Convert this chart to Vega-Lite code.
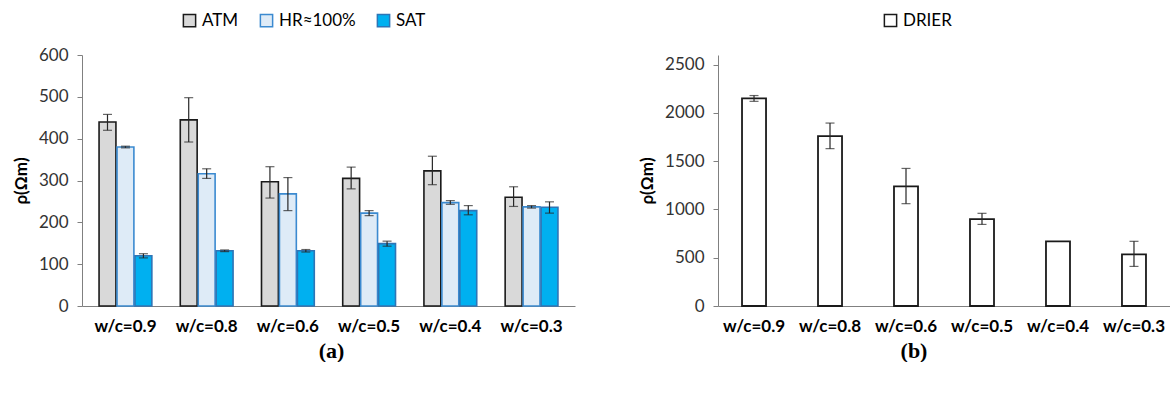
{
  "$schema": "https://vega.github.io/schema/vega-lite/v6.json",
  "padding": {"left": 12, "top": 12, "right": 0, "bottom": 0},
  "background": "white",
  "spacing": 63,
  "datasets": {
    "moist": [
      {"wc": "w/c=0.9", "cond": "ATM", "rho": 440, "lo": 420, "hi": 458},
      {"wc": "w/c=0.9", "cond": "HR≈100%", "rho": 380, "lo": 378, "hi": 382},
      {"wc": "w/c=0.9", "cond": "SAT", "rho": 120, "lo": 115, "hi": 125},
      {"wc": "w/c=0.8", "cond": "ATM", "rho": 445, "lo": 392, "hi": 498},
      {"wc": "w/c=0.8", "cond": "HR≈100%", "rho": 316, "lo": 305, "hi": 328},
      {"wc": "w/c=0.8", "cond": "SAT", "rho": 132, "lo": 130, "hi": 134},
      {"wc": "w/c=0.6", "cond": "ATM", "rho": 297, "lo": 258, "hi": 333},
      {"wc": "w/c=0.6", "cond": "HR≈100%", "rho": 268, "lo": 228, "hi": 307},
      {"wc": "w/c=0.6", "cond": "SAT", "rho": 132, "lo": 129, "hi": 135},
      {"wc": "w/c=0.5", "cond": "ATM", "rho": 305, "lo": 280, "hi": 332},
      {"wc": "w/c=0.5", "cond": "HR≈100%", "rho": 222, "lo": 216, "hi": 228},
      {"wc": "w/c=0.5", "cond": "SAT", "rho": 149, "lo": 143, "hi": 155},
      {"wc": "w/c=0.4", "cond": "ATM", "rho": 323, "lo": 290, "hi": 358},
      {"wc": "w/c=0.4", "cond": "HR≈100%", "rho": 247, "lo": 243, "hi": 252},
      {"wc": "w/c=0.4", "cond": "SAT", "rho": 228, "lo": 218, "hi": 240},
      {"wc": "w/c=0.3", "cond": "ATM", "rho": 260, "lo": 238, "hi": 285},
      {"wc": "w/c=0.3", "cond": "HR≈100%", "rho": 237, "lo": 234, "hi": 240},
      {"wc": "w/c=0.3", "cond": "SAT", "rho": 236, "lo": 222, "hi": 249}
    ],
    "drier": [
      {"wc": "w/c=0.9", "cond": "DRIER", "rho": 2150, "lo": 2120, "hi": 2180},
      {"wc": "w/c=0.8", "cond": "DRIER", "rho": 1760, "lo": 1630, "hi": 1895},
      {"wc": "w/c=0.6", "cond": "DRIER", "rho": 1240, "lo": 1060, "hi": 1425},
      {"wc": "w/c=0.5", "cond": "DRIER", "rho": 900, "lo": 845, "hi": 960},
      {"wc": "w/c=0.4", "cond": "DRIER", "rho": 670, "lo": null, "hi": null},
      {"wc": "w/c=0.3", "cond": "DRIER", "rho": 535, "lo": 410, "hi": 670}
    ]
  },
  "config": {
    "view": {"stroke": null},
    "font": "Lato",
    "axis": {
      "grid": false,
      "domainColor": "#808080",
      "domainWidth": 1,
      "tickColor": "#808080",
      "labelFont": "Lato",
      "titleFont": "Lato"
    },
    "axisY": {
      "tickSize": 5,
      "labelFontSize": 17,
      "labelColor": "#333333",
      "labelPadding": 9,
      "titleFontSize": 17,
      "titleFontWeight": "bold",
      "titleColor": "#000000",
      "titlePadding": 8,
      "format": "d"
    },
    "axisX": {
      "ticks": false,
      "tickSize": 0,
      "labelFontSize": 17,
      "labelFontWeight": "bold",
      "labelColor": "#000000",
      "labelPadding": 12,
      "labelAngle": 0
    },
    "legend": {
      "orient": "none",
      "direction": "horizontal",
      "symbolType": "square",
      "symbolSize": 150,
      "symbolStrokeWidth": 1.5,
      "labelFont": "Lato",
      "labelFontSize": 17,
      "labelColor": "#000000",
      "labelOffset": 4,
      "columnPadding": 18,
      "title": null
    },
    "title": {
      "font": "Liberation Serif",
      "fontSize": 22,
      "fontWeight": "bold",
      "color": "#000000"
    }
  },
  "resolve": {
    "scale": {"x": "independent", "y": "independent", "fill": "independent", "stroke": "independent"},
    "legend": {"fill": "independent", "stroke": "independent"}
  },
  "hconcat": [
    {
      "width": 493,
      "height": 251,
      "data": {"name": "moist"},
      "title": {"text": "(a)", "orient": "bottom", "anchor": "middle", "offset": 7, "dx": 3},
      "encoding": {
        "x": {
          "field": "wc", "type": "nominal", "sort": ["w/c=0.9", "w/c=0.8", "w/c=0.6", "w/c=0.5", "w/c=0.4", "w/c=0.3"],
          "scale": {"paddingInner": 0.35, "paddingOuter": 0.21},
          "axis": {"title": null}
        },
        "xOffset": {"field": "cond", "type": "nominal", "sort": ["ATM", "HR≈100%", "SAT"], "scale": {"paddingInner": 0.06, "paddingOuter": 0}}
      },
      "layer": [
        {
          "mark": {"type": "bar", "strokeWidth": 1.6},
          "encoding": {
            "y": {
              "field": "rho", "type": "quantitative",
              "scale": {"domain": [0, 600]},
              "axis": {"title": "ρ(Ωm)", "values": [0, 100, 200, 300, 400, 500, 600]}
            },
            "fill": {
              "field": "cond", "type": "nominal",
              "scale": {"domain": ["ATM", "HR≈100%", "SAT"], "range": ["#d9d9d9", "#deebf7", "#00b0f0"]},
              "legend": {"legendX": 99, "legendY": -43}
            },
            "stroke": {
              "field": "cond", "type": "nominal",
              "scale": {"domain": ["ATM", "HR≈100%", "SAT"], "range": ["#1a1a1a", "#3b8ad0", "#2e75b6"]},
              "legend": {"legendX": 99, "legendY": -43}
            }
          }
        },
        {
          "mark": {"type": "rule", "color": "#262626", "strokeWidth": 1.2},
          "encoding": {"y": {"field": "lo", "type": "quantitative"}, "y2": {"field": "hi"}}
        },
        {
          "mark": {"type": "tick", "color": "#262626", "size": 9, "thickness": 1.2},
          "encoding": {"y": {"field": "lo", "type": "quantitative"}}
        },
        {
          "mark": {"type": "tick", "color": "#262626", "size": 9, "thickness": 1.2},
          "encoding": {"y": {"field": "hi", "type": "quantitative"}}
        }
      ]
    },
    {
      "width": 452,
      "height": 251,
      "data": {"name": "drier"},
      "title": {"text": "(b)", "orient": "bottom", "anchor": "middle", "offset": 7, "dx": -30},
      "encoding": {
        "x": {
          "field": "wc", "type": "nominal", "sort": ["w/c=0.9", "w/c=0.8", "w/c=0.6", "w/c=0.5", "w/c=0.4", "w/c=0.3"],
          "scale": {"paddingInner": 0.684, "paddingOuter": 0.316},
          "axis": {"title": null}
        }
      },
      "layer": [
        {
          "mark": {"type": "bar", "strokeWidth": 1.8},
          "encoding": {
            "y": {
              "field": "rho", "type": "quantitative",
              "scale": {"domain": [0, 2500]},
              "axis": {"title": "ρ(Ωm)", "values": [0, 500, 1000, 1500, 2000, 2500]}
            },
            "fill": {
              "field": "cond", "type": "nominal",
              "scale": {"domain": ["DRIER"], "range": ["#ffffff"]},
              "legend": {"legendX": 164, "legendY": -43}
            },
            "stroke": {
              "field": "cond", "type": "nominal",
              "scale": {"domain": ["DRIER"], "range": ["#1a1a1a"]},
              "legend": {"legendX": 164, "legendY": -43}
            }
          }
        },
        {
          "mark": {"type": "rule", "color": "#262626", "strokeWidth": 1.2},
          "encoding": {"y": {"field": "lo", "type": "quantitative"}, "y2": {"field": "hi"}}
        },
        {
          "mark": {"type": "tick", "color": "#262626", "size": 9, "thickness": 1.2},
          "encoding": {"y": {"field": "lo", "type": "quantitative"}}
        },
        {
          "mark": {"type": "tick", "color": "#262626", "size": 9, "thickness": 1.2},
          "encoding": {"y": {"field": "hi", "type": "quantitative"}}
        }
      ]
    }
  ]
}
